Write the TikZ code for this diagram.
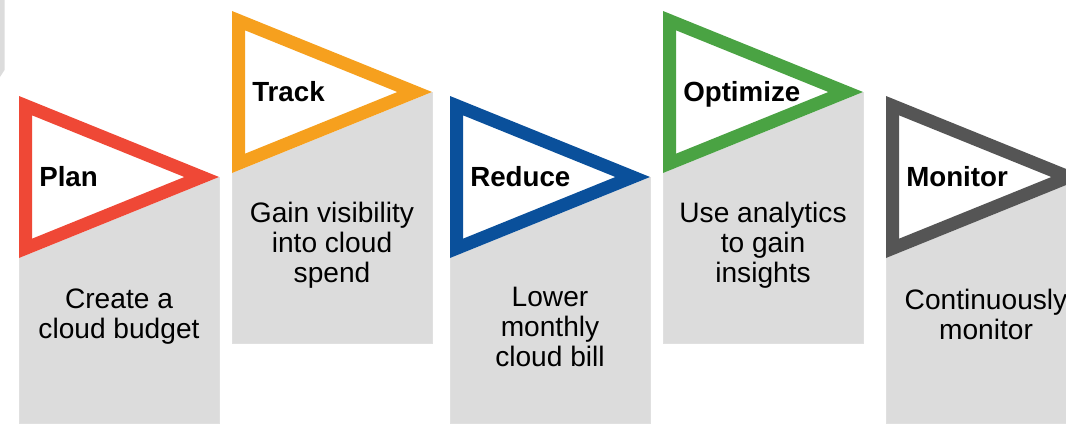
\documentclass[tikz,border=0pt]{standalone}
\usepackage{fontspec}
\setmainfont{Liberation Sans}
\usetikzlibrary{calc}
\definecolor{planred}{RGB}{239,72,54}
\definecolor{trackorange}{RGB}{246,160,30}
\definecolor{reduceblue}{RGB}{10,80,155}
\definecolor{optgreen}{RGB}{74,163,67}
\definecolor{mongrey}{RGB}{85,85,85}
\definecolor{boxgrey}{RGB}{220,220,220}
\tikzset{
	steplabel/.style={anchor=base west, inner sep=0pt, font=\fontsize{19.7}{21.3}\selectfont\bfseries},
	steptext/.style={anchor=north, inner sep=0pt, align=center, font=\fontsize{20}{21.3}\selectfont},
}

\begin{document}
\begin{tikzpicture}[x=0.025cm, y=-0.025cm]
	\useasboundingbox (0,0) rectangle (1066,423);
	\clip (0,0) rectangle (1066,423);
	
	% piece of a column cut off at the left
	\fill[boxgrey] (0,0) -- (4.5,0) -- (4.5,70) -- (0,77) -- cycle;
	
	\foreach \x/\tip/\bot/\col/\name/\lbl/\ty/\txt in {
		19/177/423/planred/plan/Plan/289/{Create a\\cloud budget},
		232/92/343/trackorange/track/Track/202/{Gain visibility\\into cloud\\spend},
		450/177/423/reduceblue/reduce/Reduce/287/{Lower\\monthly\\cloud bill},
		663/92/343/optgreen/optimize/Optimize/202/{Use analytics\\to gain\\insights},
		886/177/423/mongrey/monitor/Monitor/289/{Continuously\\monitor}}{
		\fill[boxgrey, draw=black!12, line width=0.4pt] (\x,\tip) rectangle (\x+200,\bot);
		\begin{scope}
			\clip (\x,\tip-81) -- (\x+200,\tip) -- (\x,\tip+81) -- cycle;
			\fill[white] (\x,\tip-81) -- (\x+200,\tip) -- (\x,\tip+81) -- cycle;
			\draw[\col, line width=0.65cm, line join=miter] (\x,\tip-81) -- (\x+200,\tip) -- (\x,\tip+81) -- cycle;
		\end{scope}
		\node[steplabel] (\name) at (\x+20,\tip+9) {\lbl};
		\node[steptext] (\name-desc) at (\x+100,\ty) {\txt};
	}
\end{tikzpicture}
\end{document}
